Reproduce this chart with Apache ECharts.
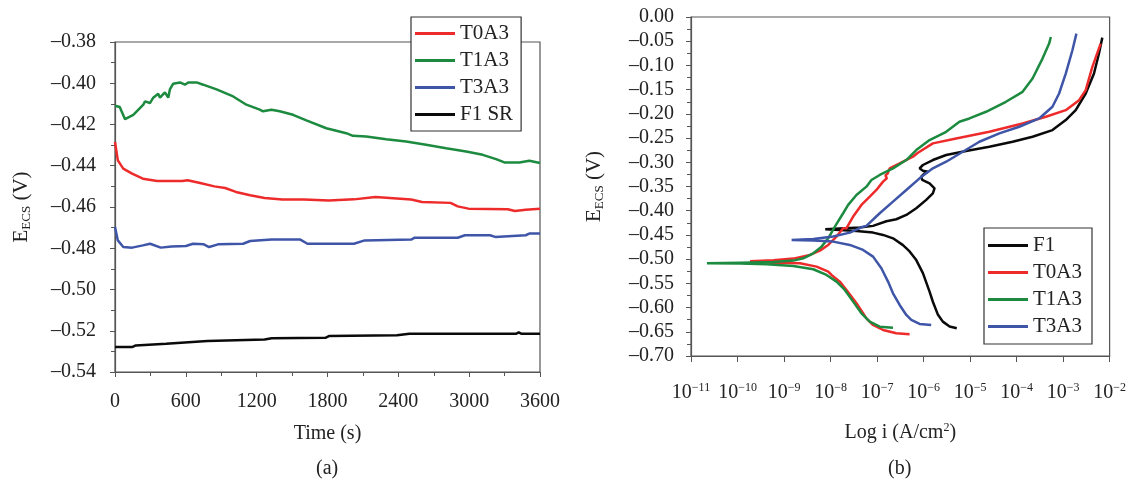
<!DOCTYPE html>
<html><head><meta charset="utf-8">
<script src="https://cdn.jsdelivr.net/npm/echarts@6/dist/echarts.min.js"></script>
<style>html,body{margin:0;padding:0;background:#fff}#c{width:1129px;height:479px}</style>
</head><body><div id="c"></div>
<script>
// ---------- Panel (a): open circuit potential vs time ----------
const t0a3_t = [0,24,70,145,236,358,570,585,615,721,842,933,1024,1145,1267,1418,1600,1812,2024,2206,2297,2509,2600,2842,2903,2994,3327,3388,3479,3600];
const t0a3_E = [-0.4285,-0.4374,-0.4414,-0.4438,-0.4463,-0.4474,-0.4474,-0.4466,-0.4470,-0.4484,-0.4500,-0.4508,-0.4527,-0.4543,-0.4556,-0.4564,-0.4564,-0.4568,-0.4563,-0.4552,-0.4555,-0.4564,-0.4576,-0.4580,-0.4597,-0.4608,-0.4611,-0.4619,-0.4613,-0.4608];
const t1a3_t = [0,40,85,155,240,254,296,324,366,381,423,451,465,493,550,592,620,691,747,860,1001,1113,1226,1254,1325,1395,1508,1621,1790,1959,2015,2128,2297,2466,2635,2805,2974,3115,3228,3298,3425,3510,3600];
const t1a3_E = [-0.4109,-0.4115,-0.4174,-0.4153,-0.4104,-0.4088,-0.4096,-0.4070,-0.4051,-0.4070,-0.4044,-0.4070,-0.4030,-0.4002,-0.3996,-0.4007,-0.3996,-0.3996,-0.4007,-0.4030,-0.4064,-0.4104,-0.4128,-0.4136,-0.4128,-0.4136,-0.4153,-0.4180,-0.4218,-0.4242,-0.4255,-0.4258,-0.4271,-0.4282,-0.4298,-0.4315,-0.4331,-0.4347,-0.4368,-0.4384,-0.4384,-0.4376,-0.4387];
const t3a3_t = [0,24,70,145,236,297,388,479,600,661,752,797,873,1085,1145,1327,1570,1630,2024,2115,2509,2539,2903,2964,3176,3221,3479,3509,3600];
const t3a3_E = [-0.4697,-0.4762,-0.4794,-0.4797,-0.4786,-0.4778,-0.4797,-0.4791,-0.4789,-0.4778,-0.4781,-0.4794,-0.4781,-0.4778,-0.4765,-0.4758,-0.4758,-0.4778,-0.4778,-0.4762,-0.4758,-0.4749,-0.4749,-0.4737,-0.4737,-0.4745,-0.4737,-0.4729,-0.4729];
const f1sr_t = [0,145,176,433,448,782,1267,1327,1782,1812,2388,2494,3400,3420,3440,3600];
const f1sr_E = [-0.5279,-0.5279,-0.5271,-0.5263,-0.5255,-0.5250,-0.5242,-0.5236,-0.5234,-0.5226,-0.5222,-0.5214,-0.5214,-0.5208,-0.5214,-0.5214];
const aSeriesNames = ['T0A3','T1A3','T3A3','F1 SR'];
const aTimeTicks = [0,600,1200,1800,2400,3000,3600];

// ---------- Panel (b): polarization curves (log i, E) ----------
const f1_logi = [-5.286,-5.44,-5.586,-5.69,-5.80,-5.871,-6.014,-6.157,-6.30,-6.443,-6.657,-6.871,-7.086,-7.443,-7.80,-8.114,-7.80,-7.371,-7.086,-6.80,-6.586,-6.371,-6.157,-5.943,-5.80,-5.764,-5.871,-6.029,-6.05,-5.979,-5.907,-6.014,-6.086,-6.014,-5.80,-5.514,-5.086,-4.586,-4.086,-3.657,-3.229,-2.943,-2.729,-2.514,-2.336,-2.229,-2.157];
const f1_E    = [-0.6428,-0.639,-0.629,-0.615,-0.588,-0.567,-0.529,-0.502,-0.484,-0.471,-0.457,-0.450,-0.4452,-0.442,-0.4397,-0.4383,-0.4368,-0.4348,-0.4313,-0.4217,-0.4176,-0.4087,-0.3949,-0.3777,-0.364,-0.3537,-0.3434,-0.3365,-0.3297,-0.3228,-0.3194,-0.3173,-0.3125,-0.3056,-0.2953,-0.285,-0.2768,-0.2679,-0.2576,-0.2473,-0.2335,-0.2129,-0.1923,-0.158,-0.1168,-0.0755,-0.0426];
const t0_logi = [-6.30,-6.586,-6.871,-7.086,-7.229,-7.30,-7.286,-7.443,-7.657,-7.80,-7.979,-8.05,-8.30,-8.657,-9.229,-9.729,-9.229,-8.80,-8.443,-8.229,-8.05,-7.871,-7.729,-7.657,-7.514,-7.336,-7.157,-7.014,-6.871,-6.79,-6.82,-6.77,-6.729,-6.514,-6.229,-6.121,-5.80,-5.30,-4.586,-3.871,-3.371,-2.943,-2.657,-2.514,-2.371,-2.193];
const t0_E    = [-0.6552,-0.6532,-0.6463,-0.636,-0.6222,-0.6118,-0.6084,-0.5912,-0.5636,-0.5464,-0.5326,-0.5258,-0.5154,-0.5085,-0.5072,-0.5044,-0.5023,-0.4989,-0.4913,-0.4824,-0.4707,-0.4534,-0.4362,-0.4361,-0.4121,-0.388,-0.3709,-0.3571,-0.340,-0.3330,-0.3270,-0.3230,-0.3125,-0.3022,-0.2885,-0.2802,-0.261,-0.2507,-0.237,-0.2198,-0.206,-0.1923,-0.1717,-0.1511,-0.103,-0.0549];
const t1_logi = [-6.657,-6.943,-7.157,-7.336,-7.514,-7.693,-7.871,-8.086,-8.371,-8.80,-9.371,-9.943,-10.657,-9.943,-9.229,-8.80,-8.586,-8.371,-8.193,-8.05,-7.907,-7.871,-7.729,-7.621,-7.443,-7.229,-7.121,-6.943,-6.657,-6.371,-6.157,-5.871,-5.514,-5.229,-5.014,-4.657,-4.229,-3.871,-3.657,-3.443,-3.30,-3.264];
const t1_E    = [-0.6415,-0.6394,-0.629,-0.6118,-0.5877,-0.5636,-0.5464,-0.5326,-0.5209,-0.514,-0.5106,-0.5092,-0.5085,-0.5072,-0.5058,-0.503,-0.4982,-0.4879,-0.4741,-0.4569,-0.4328,-0.4327,-0.4052,-0.388,-0.3674,-0.3503,-0.3365,-0.3262,-0.3125,-0.2953,-0.2747,-0.2541,-0.237,-0.2163,-0.2095,-0.1957,-0.1751,-0.1545,-0.1271,-0.0859,-0.0549,-0.0412];
const t3_logi = [-5.836,-6.086,-6.264,-6.371,-6.514,-6.657,-6.764,-6.907,-7.086,-7.30,-7.586,-7.943,-8.371,-8.836,-8.371,-7.943,-7.586,-7.336,-7.229,-6.943,-6.657,-6.371,-6.086,-5.80,-5.514,-5.157,-4.80,-4.371,-3.943,-3.514,-3.229,-3.086,-2.943,-2.80,-2.714];
const t3_E    = [-0.636,-0.6339,-0.6256,-0.6153,-0.5946,-0.5705,-0.5464,-0.5189,-0.4948,-0.481,-0.4707,-0.4638,-0.4617,-0.4603,-0.4583,-0.4534,-0.4452,-0.4342,-0.4313,-0.4052,-0.3812,-0.3571,-0.3331,-0.3125,-0.2988,-0.2782,-0.2576,-0.2404,-0.2266,-0.2095,-0.1854,-0.158,-0.1168,-0.0687,-0.0343];
const bSeriesNames = ['F1','T0A3','T1A3','T3A3'];
const bLogTicks = [-11,-10,-9,-8,-7,-6,-5,-4,-3,-2];

const COLORS = {red:'#ee2b2b', green:'#1c8a3f', blue:'#3e55a8', black:'#0a0a0a'};
const FONT = "'Liberation Serif','Times New Roman',serif";
const TXT = '#222';
const FRAME = '#555';

function zip(a,b){return a.map((v,i)=>[v,b[i]]);}
function dash(v){return (v<0?'\u2013':'')+Math.abs(v).toFixed(2);}
const SUP = {'-':'\u2212','0':'0','1':'1','2':'2','3':'3','4':'4','5':'5','6':'6','7':'7','8':'8','9':'9'};

const chart = echarts.init(document.getElementById('c'), null, {renderer:'canvas'});

function lineSeries(name, data, color, xi, yi){
  return {name, type:'line', data, xAxisIndex:xi, yAxisIndex:yi, symbol:'none', showSymbol:false,
    lineStyle:{color, width:2.5}, itemStyle:{color}, animation:false, z:3};
}

const axisCommon = {
  axisLine:{show:true, onZero:false, lineStyle:{color:FRAME, width:1.2}},
  axisTick:{show:true, inside:false, length:5, lineStyle:{color:FRAME}},
  splitLine:{show:false},
  axisLabel:{color:TXT, fontFamily:FONT, fontSize:20},
  nameTextStyle:{color:TXT, fontFamily:FONT, fontSize:20}
};

const legendCommon = {orient:'vertical', icon:'rect', itemWidth:40, itemHeight:3, itemGap:6,
  borderColor:'#333', borderWidth:1.2, backgroundColor:'#fff', selectedMode:false,
  textStyle:{fontFamily:FONT, fontSize:21, color:TXT, lineHeight:20}, z:10};

const option = {
  backgroundColor:'#fff',
  animation:false,
  textStyle:{fontFamily:FONT},
  grid:[
    {left:115, top:42, width:425, height:330, show:true, borderColor:FRAME, borderWidth:1.2, backgroundColor:'transparent'},
    {left:691, top:17, width:419, height:339, show:true, borderColor:FRAME, borderWidth:1.2, backgroundColor:'transparent'}
  ],
  xAxis:[
    Object.assign({}, axisCommon, {
      gridIndex:0, type:'value', min:0, max:3600, interval:600,
      minorTick:{show:true, splitNumber:2, length:4, lineStyle:{color:FRAME}},
      axisLabel:Object.assign({}, axisCommon.axisLabel, {margin:20, formatter:v=>aTimeTicks.includes(v)?String(v):''}),
      name:'Time (s)', nameLocation:'middle', nameGap:52
    }),
    Object.assign({}, axisCommon, {
      gridIndex:1, type:'value', min:-11, max:-2, interval:1,
      axisTick:{show:true, inside:false, length:6, lineStyle:{color:FRAME}},
      axisLabel:Object.assign({}, axisCommon.axisLabel, {margin:26,
        formatter:v=>{ if(!bLogTicks.includes(Math.round(v))) return ''; const s=String(Math.round(v)).split('').map(c=>SUP[c]).join(''); return '{a|10}{b|'+s+'}'; },
        rich:{a:{fontSize:20, fontFamily:FONT, color:TXT}, b:{fontSize:12, fontFamily:FONT, color:TXT, padding:[0,0,9,0]}}}),
      name:'{a|Log i (A/cm}{b|2}{a|)}', nameLocation:'middle', nameGap:66,
      nameTextStyle:{color:TXT, fontFamily:FONT, fontSize:20, rich:{a:{fontSize:20, fontFamily:FONT, color:TXT}, b:{fontSize:12, fontFamily:FONT, color:TXT, padding:[0,0,9,0]}}}
    })
  ],
  yAxis:[
    Object.assign({}, axisCommon, {
      gridIndex:0, type:'value', min:-0.54, max:-0.38, interval:0.02,
      minorTick:{show:true, splitNumber:2, length:4, lineStyle:{color:FRAME}},
      axisLabel:Object.assign({}, axisCommon.axisLabel, {margin:19, formatter:v=>dash(v)}),
      name:'{a|E}{b|ECS}{a| (V)}', nameLocation:'middle', nameGap:82, nameRotate:90,
      nameTextStyle:{color:TXT, fontFamily:FONT, fontSize:21, rich:{a:{fontSize:21, fontFamily:FONT, color:TXT}, b:{fontSize:13, fontFamily:FONT, color:TXT, padding:[10,0,0,0]}}}
    }),
    Object.assign({}, axisCommon, {
      gridIndex:1, type:'value', min:-0.70, max:0, interval:0.05,
      minorTick:{show:true, splitNumber:2, length:4, lineStyle:{color:FRAME}},
      axisLabel:Object.assign({}, axisCommon.axisLabel, {margin:17, formatter:v=>dash(v)}),
      name:'{a|E}{b|ECS}{a| (V)}', nameLocation:'middle', nameGap:85, nameRotate:90,
      nameTextStyle:{color:TXT, fontFamily:FONT, fontSize:21, rich:{a:{fontSize:21, fontFamily:FONT, color:TXT}, b:{fontSize:13, fontFamily:FONT, color:TXT, padding:[10,0,0,0]}}}
    })
  ],
  legend:[
    Object.assign({}, legendCommon, {data:aSeriesNames, left:411, top:17, padding:[6,8,6,4]}),
    Object.assign({}, legendCommon, {data:bSeriesNames, left:984, top:228, padding:[7,10,7,4]})
  ],
  graphic:[
    {type:'text', left:316, top:459, style:{text:'(a)', font:'20px '+FONT, fill:TXT}},
    {type:'text', left:888, top:459, style:{text:'(b)', font:'20px '+FONT, fill:TXT}}
  ],
  series:[
    lineSeries('T0A3', zip(t0a3_t,t0a3_E), COLORS.red, 0, 0),
    lineSeries('T1A3', zip(t1a3_t,t1a3_E), COLORS.green, 0, 0),
    lineSeries('T3A3', zip(t3a3_t,t3a3_E), COLORS.blue, 0, 0),
    lineSeries('F1 SR', zip(f1sr_t,f1sr_E), COLORS.black, 0, 0),
    lineSeries('F1', zip(f1_logi,f1_E), COLORS.black, 1, 1),
    lineSeries('T0A3', zip(t0_logi,t0_E), COLORS.red, 1, 1),
    lineSeries('T1A3', zip(t1_logi,t1_E), COLORS.green, 1, 1),
    lineSeries('T3A3', zip(t3_logi,t3_E), COLORS.blue, 1, 1)
  ]
};
chart.setOption(option);
</script></body></html>
